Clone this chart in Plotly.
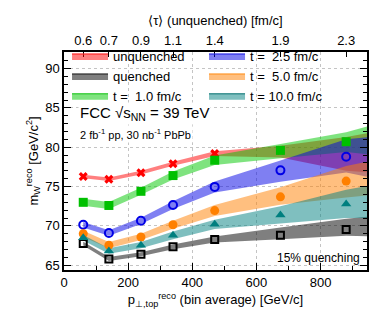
import plotly.graph_objects as go

# bin averages of reco top pT
pt = [60, 140, 240, 340, 470, 675, 880]
pt_band = [60, 140, 240, 340, 470, 675, 880, 950]
tau_labels = ['0.6', '0.7', '0.9', '1.1', '1.4', '1.9', '2.3']

unq_y = [76.27, 75.93, 76.77, 77.9, 79.2, 79.6, 80.7]
unq_lo = [76.05, 75.7, 76.55, 77.65, 78.9, 78.7, 77.0, 76.8]
unq_hi = [76.5, 76.15, 77.0, 78.15, 79.5, 80.2, 81.3, 81.8]

q_y = [67.76, 65.8, 66.4, 67.35, 68.27, 68.8, 69.56]
q_lo = [67.5, 65.55, 66.15, 67.05, 67.9, 68.3, 68.75, 68.7]
q_hi = [68.0, 66.05, 66.65, 67.65, 68.65, 69.8, 70.9, 71.2]

t1_y = [73.0, 72.6, 74.4, 76.4, 78.35, 79.6, 80.7]
t1_lo = [72.55, 72.15, 73.95, 75.9, 77.75, 78.6, 79.4, 79.1]
t1_hi = [73.45, 73.05, 74.85, 76.9, 78.95, 80.4, 81.9, 82.7]

t25_y = [70.15, 69.1, 70.65, 72.65, 74.96, 77.06, 78.8]
t25_lo = [69.8, 68.75, 70.25, 72.15, 74.25, 75.6, 76.8, 76.2]
t25_hi = [70.5, 69.45, 71.05, 73.15, 75.65, 78.3, 81.0, 81.3]

t5_y = [69.0, 67.55, 68.6, 70.15, 71.95, 73.7, 75.7]
t5_lo = [68.6, 67.15, 68.2, 69.65, 71.25, 72.7, 73.6, 73.9]
t5_hi = [69.4, 67.95, 69.0, 70.65, 72.65, 74.9, 77.6, 78.2]

t10_y = [68.5, 66.8, 67.55, 68.8, 70.2, 71.4, 72.8]
t10_lo = [68.15, 66.45, 67.15, 68.3, 69.6, 70.3, 71.0, 71.0]
t10_hi = [68.85, 67.15, 67.95, 69.3, 70.8, 72.5, 74.6, 75.1]

FONT = 'Liberation Sans, Arial, sans-serif'

fig = go.Figure()


def band(lo, hi, fill):
    fig.add_trace(go.Scatter(
        x=pt_band + pt_band[::-1], y=hi + lo[::-1], fill='toself', mode='none',
        fillcolor=fill, showlegend=False, hoverinfo='skip'))


def legend_box(fill, edge, name, rank):
    fig.add_trace(go.Scatter(
        x=[None], y=[None], fill='toself', mode='lines', fillcolor=fill,
        line=dict(color=edge, width=1.5), name=name, legendrank=rank))


def marks(y, symbol, color, size, open_=False):
    if open_:
        m = dict(symbol=symbol, size=size, color='rgba(0,0,0,0)',
                 line=dict(color=color, width=2))
    else:
        m = dict(symbol=symbol, size=size, color=color, line=dict(width=0))
    fig.add_trace(go.Scatter(x=pt, y=y, mode='markers', marker=m, showlegend=False))


# bands (draw order)
band(unq_lo, unq_hi, 'rgba(255,0,0,0.5)')
band(q_lo, q_hi, 'rgba(0,0,0,0.5)')
band(t1_lo, t1_hi, 'rgba(0,200,0,0.5)')
band(t25_lo, t25_hi, 'rgba(0,0,230,0.5)')
band(t5_lo, t5_hi, 'rgba(255,128,0,0.5)')
band(t10_lo, t10_hi, 'rgba(0,128,128,0.5)')

legend_box('rgba(255,0,0,0.5)', 'rgba(255,40,40,0.8)', 'unquenched', 1)
legend_box('rgba(255,128,0,0.5)', 'rgba(255,150,40,0.8)', 't =  5.0 fm/c', 4)
legend_box('rgba(0,0,0,0.5)', 'rgba(40,40,40,0.8)', 'quenched', 3)
legend_box('rgba(0,200,0,0.5)', 'rgba(40,200,40,0.8)', 't =  1.0 fm/c', 5)
legend_box('rgba(0,0,230,0.5)', 'rgba(40,40,230,0.8)', 't =  2.5 fm/c', 2)
legend_box('rgba(0,128,128,0.5)', 'rgba(30,128,128,0.8)', 't = 10.0 fm/c', 6)

marks(unq_y, 'x', '#ff0000', 8)
marks(q_y, 'square', '#000000', 7, True)
marks(t25_y, 'circle', '#0000e6', 8, True)
marks(t5_y, 'circle', '#ff8000', 9)
marks(t10_y, 'triangle-up', '#007f7f', 9)
marks(t1_y, 'square', '#00c000', 9)

# top axis helper trace
fig.add_trace(go.Scatter(x=pt, y=t1_y, xaxis='x2', mode='markers',
                         marker=dict(opacity=0), showlegend=False, hoverinfo='skip'))
# right axis helper trace
fig.add_trace(go.Scatter(x=pt, y=t1_y, yaxis='y2', mode='markers',
                         marker=dict(opacity=0), showlegend=False, hoverinfo='skip'))

# white legend area hiding the grid
fig.add_shape(type='rect', xref='paper', yref='y', x0=0.003, x1=0.965, y0=85.45, y1=92.0,
              fillcolor='white', line=dict(width=0), layer='between')

fig.add_annotation(x=0.045, y=0.72, xref='paper', yref='paper', xanchor='left', yanchor='middle',
                   text='FCC √s<sub>NN</sub> = 39 TeV', showarrow=False,
                   font=dict(family=FONT, size=15, color='black'), bgcolor='white')
fig.add_annotation(x=0.045, y=0.625, xref='paper', yref='paper', xanchor='left', yanchor='middle',
                   text='2 fb<sup>-1</sup> pp, 30 nb<sup>-1</sup> PbPb', showarrow=False,
                   font=dict(family=FONT, size=11, color='black'), bgcolor='white')
fig.add_annotation(x=0.985, y=0.055, xref='paper', yref='paper', xanchor='right', yanchor='middle',
                   text='15% quenching', showarrow=False,
                   font=dict(family=FONT, size=12, color='black'))

axis_common = dict(showline=True, linecolor='black', linewidth=1.5, mirror=False,
                   ticks='inside', tickcolor='black', tickfont=dict(family=FONT, size=13, color='black'),
                   zeroline=False)

fig.update_layout(
    width=382, height=320,
    margin=dict(l=56, r=23, t=42, b=58),
    plot_bgcolor='white', paper_bgcolor='white',
    font=dict(family=FONT, size=13, color='black'),
    xaxis=dict(range=[0, 945], tickvals=[0, 200, 400, 600, 800], ticklen=7,
               minor=dict(tickvals=[100, 300, 500, 700, 900], ticks='inside', ticklen=4, tickcolor='black',
                          showgrid=False),
               showgrid=True, gridcolor='#c4c4c4', griddash='dot', gridwidth=1,
               title=dict(text='p<sub>⊥,top</sub><sup>reco</sup> (bin average) [GeV/c]', standoff=6,
                          font=dict(family=FONT, size=13)),
               **axis_common),
    xaxis2=dict(range=[0, 945], overlaying='x', side='top', tickvals=pt, ticktext=tau_labels,
                ticklen=5, showgrid=False,
                title=dict(text='⟨τ⟩ (unquenched) [fm/c]', standoff=4, font=dict(family=FONT, size=13)),
                **axis_common),
    yaxis=dict(range=[64.4, 92.1], tickvals=[65, 70, 75, 80, 85, 90], ticklen=7,
               minor=dict(dtick=1, ticks='inside', ticklen=4, tickcolor='black', showgrid=False),
               showgrid=True, gridcolor='#c4c4c4', griddash='dot', gridwidth=1,
               title=dict(text='m<sub>W</sub><sup>reco</sup> [GeV/c<sup>2</sup>]', standoff=4,
                          font=dict(family=FONT, size=13)),
               **axis_common),
    yaxis2=dict(range=[64.4, 92.1], overlaying='y', side='right', tickvals=[65, 70, 75, 80, 85, 90],
                ticklen=7, showticklabels=False, showgrid=False,
                minor=dict(dtick=1, ticks='inside', ticklen=4, tickcolor='black'),
                **axis_common),
    legend=dict(orientation='h', x=0.01, y=1.05, xanchor='left', yanchor='top',
                entrywidth=86, bgcolor='rgba(0,0,0,0)', font=dict(family=FONT, size=13),
                itemwidth=36, tracegroupgap=0, traceorder='normal'),
    showlegend=True,
)

fig.write_html('out.html')
